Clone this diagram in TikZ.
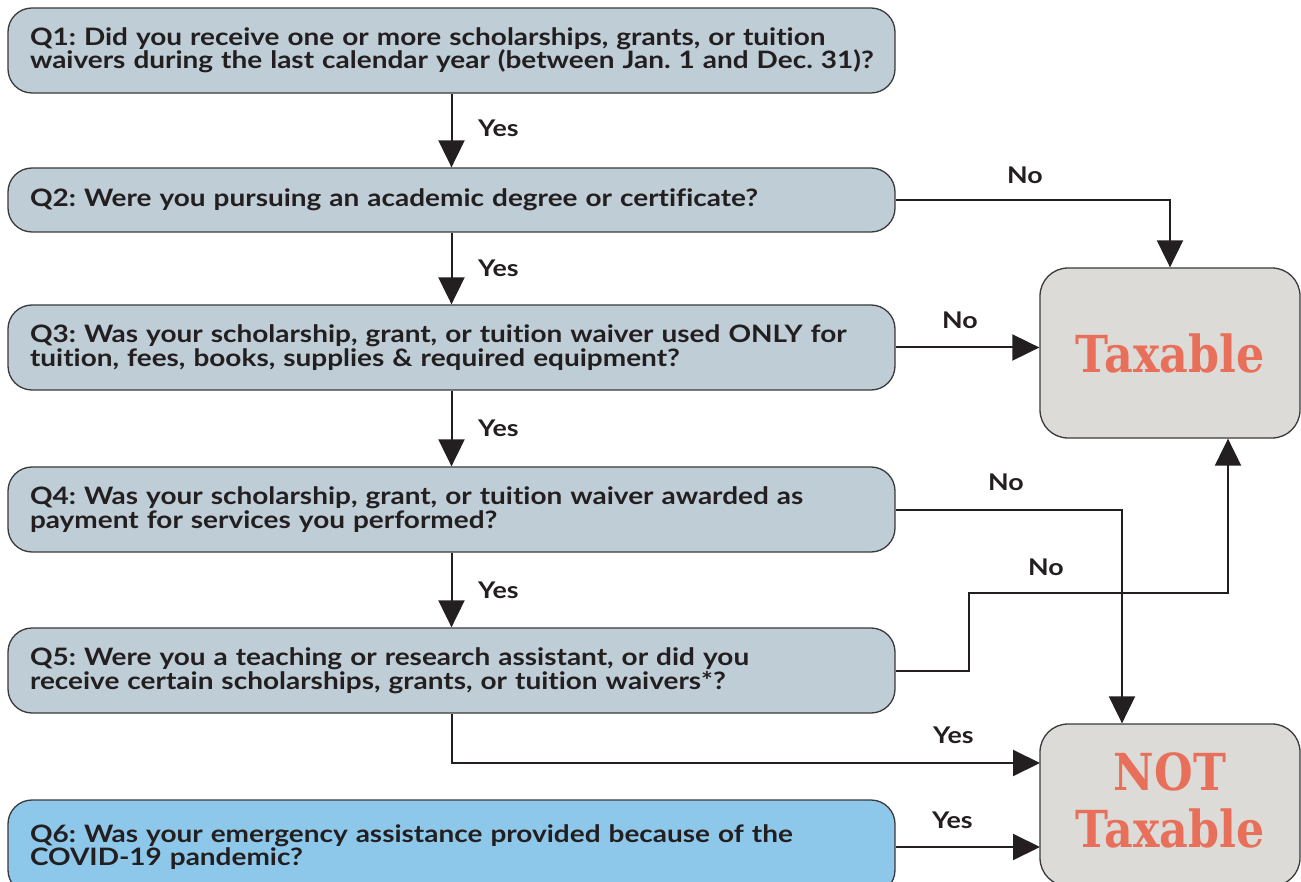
\documentclass[tikz,border=0pt]{standalone}
\usepackage{fontspec}
\setmainfont{Lato}[FakeStretch=1.165, Ligatures=NoCommon]
\newfontfamily\slab[FakeStretch=0.87]{DejaVu Serif}
\usetikzlibrary{arrows.meta}
\definecolor{qfill}{HTML}{BFCDD6}
\definecolor{q6fill}{HTML}{8DC8EA}
\definecolor{tfill}{HTML}{DCDBD7}
\definecolor{ink}{HTML}{231F20}
\definecolor{edge}{HTML}{3A3A3A}
\definecolor{red}{HTML}{E8705A}
\tikzset{
  qbox/.style={draw=edge, line width=1.3pt, fill=qfill, rounded corners=24pt,
    minimum width=887pt, text width=843pt, inner xsep=22pt, align=left,
    text=ink, font=\fontsize{24}{23.5}\selectfont\bfseries\frenchspacing, anchor=center},
  tbox/.style={draw=edge, line width=1.3pt, fill=tfill, rounded corners=28pt,
    minimum width=260pt, text=red, align=center,
    font=\fontsize{51}{57}\selectfont\slab\bfseries},
  conn/.style={line width=2pt, draw=ink, -{Triangle[width=26pt,length=27pt]}},
  lbl/.style={anchor=west, text=ink, inner sep=0pt, font=\fontsize{23}{23.5}\selectfont\bfseries}
}
\begin{document}
\begin{tikzpicture}[x=1pt,y=-1pt]
\clip (0,0) rectangle (1301,882);
\fill[white] (0,0) rectangle (1301,882);
\node[qbox, minimum height=85pt] (q1) at (451.5,50.5) {\mbox{Q1: Did you receive one or more scholarships, grants, or tuition}\\\mbox{waivers during the last calendar year (between Jan. 1 and Dec. 31)?}};
\node[qbox, minimum height=64pt] (q2) at (451.5,200) {Q2: Were you pursuing an academic degree or certificate?};
\node[qbox, minimum height=85pt] (q3) at (451.5,347.5) {Q3: Was your scholarship, grant, or tuition waiver used ONLY for\\tuition, fees, books, supplies \& required equipment?};
\node[qbox, minimum height=85pt] (q4) at (451.5,509.5) {Q4: Was your scholarship, grant, or tuition waiver awarded as\\payment for services you performed?};
\node[qbox, minimum height=85pt] (q5) at (451.5,670.5) {Q5: Were you a teaching or research assistant, or did you\\receive certain scholarships, grants, or tuition waivers*?};
\node[qbox, fill=q6fill, minimum height=94pt] (q6) at (451.5,847) {Q6: Was your emergency assistance provided because of the\\COVID-19 pandemic?};
\node[tbox, minimum height=170pt] (tax) at (1170,353) {Taxable};
\node[tbox, minimum height=162pt, text depth=10pt] (nottax) at (1170,805) {NOT\\Taxable};
\coordinate (j5) at (969,593);
\coordinate (y5) at (1040,763);
\coordinate (y6) at (1040,847);
% connectors
\draw[conn] (q1.south) -- (q2.north);
\draw[conn] (q2.south) -- (q3.north);
\draw[conn] (q3.south) -- (q4.north);
\draw[conn] (q4.south) -- (q5.north);
\draw[conn] (q2.east) -| (tax.north);
\draw[conn] (q3.east) -- (q3.east -| tax.west);
\draw[conn] (q4.east) -| ([xshift=-48pt]nottax.north);
\draw[conn] (q5.east) -| (j5) -| ([xshift=58pt]tax.south);
\draw[conn] (q5.south) |- (y5);
\draw[conn] (q6.east) -- (y6);
% labels
\node[lbl] (l1) at (478,128) {Yes};
\node[lbl] (l2) at (478,268) {Yes};
\node[lbl] (l3) at (478,428) {Yes};
\node[lbl] (l4) at (478,590) {Yes};
\node[lbl] (n2) at (1007,175) {No};
\node[lbl] (n3) at (942,320) {No};
\node[lbl] (n4) at (988,482) {No};
\node[lbl] (n5) at (1028,567) {No};
\node[lbl] (y5l) at (933,735) {Yes};
\node[lbl] (y6l) at (932,820) {Yes};
\end{tikzpicture}
\end{document}
